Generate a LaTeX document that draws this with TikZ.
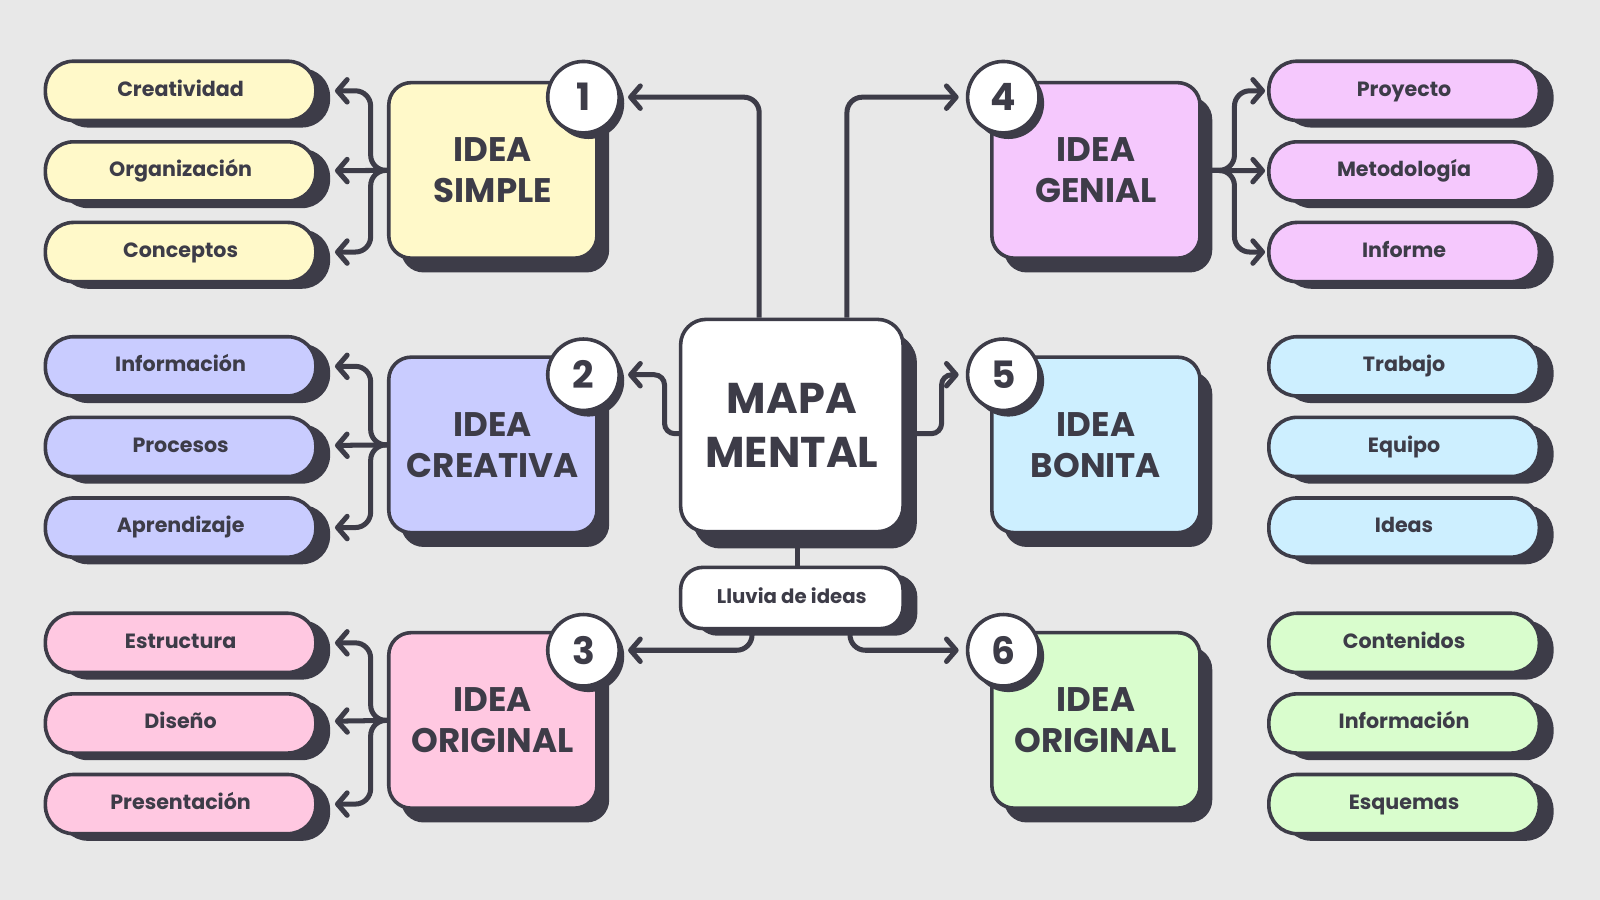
\documentclass[tikz,border=0pt]{standalone}
\usepackage{fontspec}
\setmainfont{Poppins}
\usetikzlibrary{arrows.meta, shadows, positioning}
\definecolor{ink}{HTML}{3D3C48}
\definecolor{bgc}{HTML}{E8E8E8}
\definecolor{ylw}{HTML}{FFF9C9}
\definecolor{lav}{HTML}{C9CCFF}
\definecolor{pnk}{HTML}{FFC8E1}
\definecolor{vio}{HTML}{F5C8FD}
\definecolor{sky}{HTML}{CDEFFF}
\definecolor{grn}{HTML}{D9FDCD}

\tikzset{
  pill/.style={draw=ink, line width=2pt, rounded corners=5.5mm, minimum width=53mm, minimum height=11.6mm, text height=8pt, text depth=2pt, text=ink, font=\fontsize{11.5}{13}\selectfont\bfseries, drop shadow={shadow xshift=2.8mm, shadow yshift=-1.4mm, fill=ink, opacity=1}},
  idea/.style={draw=ink, line width=2pt, rounded corners=4.4mm, minimum width=40.8mm, minimum height=34.4mm, text=ink, align=center, font=\fontsize{19}{23}\selectfont\bfseries, drop shadow={shadow xshift=2.4mm, shadow yshift=-2.8mm, fill=ink, opacity=1}},
  num/.style={circle, draw=ink, fill=white, line width=2pt, minimum size=14mm, inner sep=0pt, text=ink, font=\fontsize{21}{21}\selectfont\bfseries, drop shadow={shadow xshift=1mm, shadow yshift=-1.2mm, fill=ink, opacity=1}},
  link/.style={draw=ink, line width=2.8pt, rounded corners=3mm, -{Straight Barb[length=1.9mm,width=4.4mm,round]}},
}

\begin{document}
\begin{tikzpicture}[x=0.2mm, y=-0.2mm]
    \fill[bgc] (0,0) rectangle (1568,882);
    \useasboundingbox (0,0) rectangle (1568,882);

    % centre
    \node[idea, fill=white, minimum width=43.6mm, minimum height=41.6mm, rounded corners=5mm, font=\fontsize{24}{30}\selectfont\bfseries, drop shadow={shadow xshift=2.7mm, shadow yshift=-3.3mm, fill=ink, opacity=1}] (m) at (776,417) {MAPA\\MENTAL};
    \node[pill, fill=white, minimum width=43.6mm, minimum height=12mm, rounded corners=4.4mm, font=\fontsize{11}{13}\selectfont\bfseries] (ll) at (776,586) {Lluvia de ideas};

    % left side
    \node[idea, fill=ylw] (s1) at (483,167) {IDEA\\SIMPLE};
    \node[idea, fill=lav] (s2) at (483,436) {IDEA\\CREATIVA};
    \node[idea, fill=pnk] (s3) at (483,706) {IDEA\\ORIGINAL};
    \node[num] (c1) at ([xshift=-3mm,yshift=-3.2mm]s1.north east) {1};
    \node[num] (c2) at ([xshift=-3mm,yshift=-3.8mm]s2.north east) {2};
    \node[num] (c3) at ([xshift=-3mm,yshift=-3.8mm]s3.north east) {3};

    \node[pill, fill=ylw] (p1) at (177,89) {Creatividad};
    \node[pill, fill=ylw] (p2) at (177,168) {Organización};
    \node[pill, fill=ylw] (p3) at (177,247) {Conceptos};
    \node[pill, fill=lav] (p4) at (177,359) {Información};
    \node[pill, fill=lav] (p5) at (177,438) {Procesos};
    \node[pill, fill=lav] (p6) at (177,517) {Aprendizaje};
    \node[pill, fill=pnk] (p7) at (177,630) {Estructura};
    \node[pill, fill=pnk] (p8) at (177,709) {Diseño};
    \node[pill, fill=pnk] (p9) at (177,788) {Presentación};

    % right side
    \node[idea, fill=vio] (g1) at (1074,167) {IDEA\\GENIAL};
    \node[idea, fill=sky] (g2) at (1074,436) {IDEA\\BONITA};
    \node[idea, fill=grn] (g3) at (1074,706) {IDEA\\ORIGINAL};
    \node[num] (c4) at ([xshift=2.6mm,yshift=-3.2mm]g1.north west) {4};
    \node[num] (c5) at ([xshift=2.6mm,yshift=-3.8mm]g2.north west) {5};
    \node[num] (c6) at ([xshift=2.6mm,yshift=-3.8mm]g3.north west) {6};

    \node[pill, fill=vio] (q1) at (1376,89) {Proyecto};
    \node[pill, fill=vio] (q2) at (1376,168) {Metodología};
    \node[pill, fill=vio] (q3) at (1376,247) {Informe};
    \node[pill, fill=sky] (q4) at (1376,359) {Trabajo};
    \node[pill, fill=sky] (q5) at (1376,438) {Equipo};
    \node[pill, fill=sky] (q6) at (1376,517) {Ideas};
    \node[pill, fill=grn] (q7) at (1376,630) {Contenidos};
    \node[pill, fill=grn] (q8) at (1376,709) {Información};
    \node[pill, fill=grn] (q9) at (1376,788) {Esquemas};

    % centre to numbers
    \draw[link, shorten >=1.4mm] ([xshift=-6.4mm]m.north) |- (c1);
    \draw[link, shorten >=1.4mm] ([xshift=10.8mm]m.north) |- (c4);
    \draw[link, shorten >=1.4mm, rounded corners=2mm] ([yshift=-1.6mm]m.west) -- ++(-14,0) |- (c2);
    \draw[link, shorten >=1.4mm, rounded corners=2mm] ([yshift=-1.6mm]m.east) -- ++(36,0) |- (c5);
    \draw[draw=ink, line width=2.8pt] ([xshift=1.2mm]m.south) -- ([xshift=1.2mm]ll.north);
    \draw[link, shorten >=1.4mm] ([xshift=-7.8mm]ll.south) |- (c3);
    \draw[link, shorten >=1.4mm] ([xshift=11.4mm]ll.south) |- (c6);

    % branches
    \draw[link, shorten >=3.4mm] (s1.west) -- ++(-16,0) |- (p1);
    \draw[link, shorten >=3.4mm] (s1.west) -- (p2);
    \draw[link, shorten >=3.4mm] (s1.west) -- ++(-16,0) |- (p3);
    \draw[link, shorten >=3.4mm] (s2.west) -- ++(-16,0) |- (p4);
    \draw[link, shorten >=3.4mm] (s2.west) -- (p5);
    \draw[link, shorten >=3.4mm] (s2.west) -- ++(-16,0) |- (p6);
    \draw[link, shorten >=3.4mm] (s3.west) -- ++(-16,0) |- (p7);
    \draw[link, shorten >=3.4mm] (s3.west) -- (p8);
    \draw[link, shorten >=3.4mm] (s3.west) -- ++(-16,0) |- (p9);
    \draw[link, shorten >=0.4mm] (g1.east) -- ++(32,0) |- (q1);
    \draw[link, shorten >=0.4mm] (g1.east) -- (q2);
    \draw[link, shorten >=0.4mm] (g1.east) -- ++(32,0) |- (q3);
\end{tikzpicture}
\end{document}
